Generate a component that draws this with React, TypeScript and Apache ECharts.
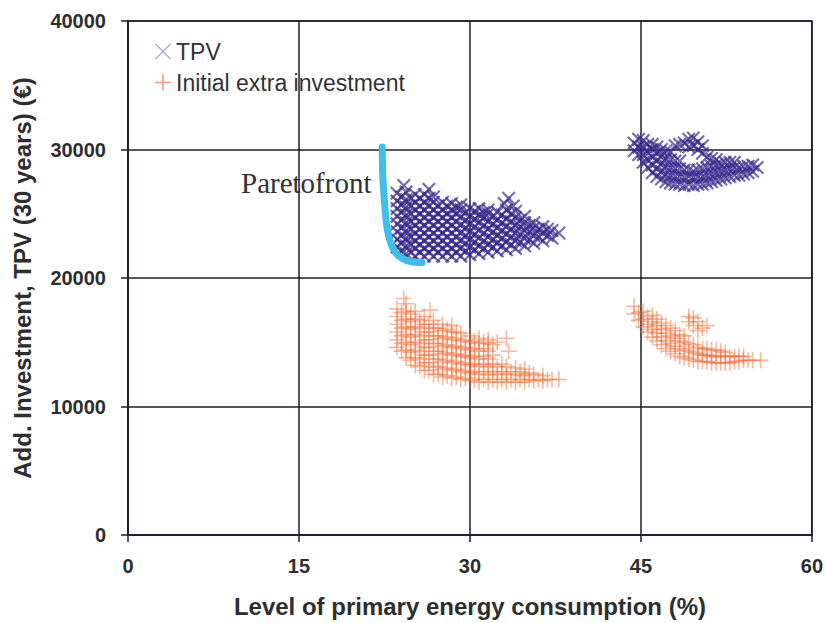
import React, { useEffect, useRef } from "react";
import * as echarts from "echarts";

const xTicks = [0, 15, 30, 45, 60];
const yTicks = [0, 10000, 20000, 30000, 40000];

// TPV, cluster around 22-38 %
const tpvLow: number[][] = [
  [23.6, 22400], [23.6, 23000], [23.6, 23600], [23.6, 24200], [23.6, 24800], [23.6, 25400], [23.6, 26000], [23.6, 26600],
  [24.0, 22100], [24.0, 22700], [24.0, 23300], [24.0, 23900], [24.0, 24500], [24.0, 25100], [24.0, 25700], [24.0, 26300],
  [24.4, 21900], [24.4, 22500], [24.4, 23100], [24.4, 23700], [24.4, 24300], [24.4, 24900], [24.4, 25500], [24.4, 26100], [24.4, 26700], [24.2, 27200],
  [24.8, 22000], [24.8, 22600], [24.8, 23200], [24.8, 23800], [24.8, 24400], [24.8, 25000], [24.8, 25600], [24.8, 26200],
  [25.2, 21700], [25.2, 22300], [25.2, 22900], [25.2, 23500], [25.2, 24100], [25.2, 24700], [25.2, 25300], [25.2, 25900], [25.2, 26500],
  [25.6, 22000], [25.6, 22600], [25.6, 23200], [25.6, 23800], [25.6, 24400], [25.6, 25000], [25.6, 25600], [25.6, 26200],
  [26.0, 21700], [26.0, 22300], [26.0, 22900], [26.0, 23500], [26.0, 24100], [26.0, 24700], [26.0, 25300], [26.0, 25900], [26.0, 26500], [26.4, 26900],
  [26.4, 22000], [26.4, 22600], [26.4, 23200], [26.4, 23800], [26.4, 24400], [26.4, 25000], [26.4, 25600], [26.4, 26200],
  [26.8, 21700], [26.8, 22300], [26.8, 22900], [26.8, 23500], [26.8, 24100], [26.8, 24700], [26.8, 25300], [26.8, 25900], [26.8, 26300],
  [27.2, 22000], [27.2, 22600], [27.2, 23200], [27.2, 23800], [27.2, 24400], [27.2, 25000], [27.2, 25600],
  [27.6, 21700], [27.6, 22300], [27.6, 22900], [27.6, 23500], [27.6, 24100], [27.6, 24700], [27.6, 25300], [27.6, 25900],
  [28.0, 22000], [28.0, 22600], [28.0, 23200], [28.0, 23800], [28.0, 24400], [28.0, 25000], [28.0, 25600],
  [28.4, 21700], [28.4, 22300], [28.4, 22900], [28.4, 23500], [28.4, 24100], [28.4, 24700], [28.4, 25300], [28.4, 25800],
  [28.8, 22000], [28.8, 22600], [28.8, 23200], [28.8, 23800], [28.8, 24400], [28.8, 25000], [28.8, 25500],
  [29.2, 21700], [29.2, 22300], [29.2, 22900], [29.2, 23500], [29.2, 24100], [29.2, 24700], [29.2, 25300], [29.2, 25700],
  [29.6, 22100], [29.6, 22700], [29.6, 23300], [29.6, 23900], [29.6, 24500], [29.6, 25100],
  [30.0, 21800], [30.0, 22400], [30.0, 23000], [30.0, 23600], [30.0, 24200], [30.0, 24800], [30.0, 25400],
  [30.4, 22200], [30.4, 22800], [30.4, 23400], [30.4, 24000], [30.4, 24600], [30.4, 25200],
  [30.8, 21900], [30.8, 22500], [30.8, 23100], [30.8, 23700], [30.8, 24300], [30.8, 24900], [30.8, 25400],
  [31.2, 22300], [31.2, 22900], [31.2, 23500], [31.2, 24100], [31.2, 24700], [31.2, 25100],
  [31.6, 22000], [31.6, 22600], [31.6, 23200], [31.6, 23800], [31.6, 24400], [31.6, 25000], [31.6, 25300],
  [32.0, 22400], [32.0, 23000], [32.0, 23600], [32.0, 24200], [32.0, 24800],
  [32.4, 22100], [32.4, 22700], [32.4, 23300], [32.4, 23900], [32.4, 24500], [32.4, 25100],
  [32.8, 22500], [32.8, 23100], [32.8, 23700], [32.8, 24300], [32.8, 24900],
  [33.2, 22200], [33.2, 22800], [33.2, 23400], [33.2, 24000], [33.2, 24600], [33.2, 25300], [33.0, 25800], [33.4, 26200],
  [33.6, 22600], [33.6, 23200], [33.6, 23800], [33.6, 24400], [33.6, 25000],
  [34.0, 22300], [34.0, 22900], [34.0, 23500], [34.0, 24100], [34.0, 24700], [34.0, 25200], [33.8, 25600],
  [34.4, 22800], [34.4, 23400], [34.4, 24000], [34.4, 24500],
  [34.8, 22500], [34.8, 23100], [34.8, 23700], [34.8, 24300], [34.8, 24800],
  [35.2, 23000], [35.2, 23600], [35.2, 24100],
  [35.6, 22700], [35.6, 23300], [35.6, 23900], [35.6, 24300],
  [36.0, 23200], [36.0, 23800],
  [36.4, 22900], [36.4, 23500], [36.4, 24000],
  [36.8, 23300], [36.8, 23800],
  [37.2, 23100], [37.2, 23700],
  [37.8, 23500],
];

// TPV, cluster around 44-55 %
const tpvHigh: number[][] = [
  [44.4, 29900], [44.4, 30500],
  [44.8, 29600], [44.8, 30200], [44.8, 30800],
  [45.2, 29000], [45.2, 29600], [45.2, 30200], [45.2, 30700],
  [45.6, 28600], [45.6, 29200], [45.6, 29800], [45.6, 30400],
  [46.0, 28200], [46.0, 28800], [46.0, 29400], [46.0, 30000], [46.0, 30400],
  [46.4, 27900], [46.4, 28500], [46.4, 29100], [46.4, 29700], [46.4, 30200],
  [46.8, 27700], [46.8, 28300], [46.8, 28900], [46.8, 29500], [46.8, 30000],
  [47.2, 27500], [47.2, 28100], [47.2, 28700], [47.2, 29300], [47.2, 29900],
  [47.6, 27400], [47.6, 28000], [47.6, 28600], [47.6, 29200], [47.6, 29800],
  [48.0, 27300], [48.0, 27900], [48.0, 28500], [48.0, 29100], [48.0, 30300],
  [48.4, 27300], [48.4, 27900], [48.4, 28500], [48.4, 29100], [48.4, 30400],
  [48.8, 27200], [48.8, 27800], [48.8, 28400], [48.8, 30500],
  [49.2, 27300], [49.2, 27900], [49.2, 28400], [49.2, 30200], [49.2, 30800],
  [49.6, 27200], [49.6, 27800], [49.6, 28300], [49.6, 30300], [49.6, 30900],
  [50.0, 27300], [50.0, 27900], [50.0, 28400], [50.0, 30000], [50.0, 30600],
  [50.4, 27300], [50.4, 27900], [50.4, 28500], [50.4, 29700], [50.4, 30300],
  [50.8, 27400], [50.8, 28000], [50.8, 28600], [50.8, 29400],
  [51.2, 27500], [51.2, 28100], [51.2, 28700], [51.2, 29300],
  [51.6, 27600], [51.6, 28200], [51.6, 28800], [51.6, 29200],
  [52.0, 27700], [52.0, 28300], [52.0, 28900],
  [52.4, 27800], [52.4, 28400], [52.4, 29000],
  [52.8, 27900], [52.8, 28500], [52.8, 29000],
  [53.2, 28000], [53.2, 28600], [53.2, 29000],
  [53.6, 28000], [53.6, 28600],
  [54.0, 28100], [54.0, 28700],
  [54.4, 28200], [54.4, 28700],
  [54.8, 28300], [54.8, 28800],
  [55.2, 28600],
];

// Initial extra investment, cluster around 23-38 %
const invLow: number[][] = [
  [23.6, 14600], [23.6, 15200], [23.6, 15800], [23.6, 16400], [23.6, 17000], [23.6, 17600],
  [24.0, 14300], [24.0, 14900], [24.0, 15500], [24.0, 16100], [24.0, 16700], [24.0, 17300],
  [24.4, 13800], [24.4, 14400], [24.4, 15000], [24.4, 15600], [24.4, 16200], [24.4, 16800], [24.4, 17400], [24.4, 18000], [24.2, 18400],
  [24.8, 13600], [24.8, 14200], [24.8, 14800], [24.8, 15400], [24.8, 16000], [24.8, 16600], [24.8, 17200],
  [25.2, 13200], [25.2, 13800], [25.2, 14400], [25.2, 15000], [25.2, 15600], [25.2, 16200], [25.2, 16800], [25.2, 17400],
  [25.6, 13100], [25.6, 13700], [25.6, 14300], [25.6, 14900], [25.6, 15500], [25.6, 16100], [25.6, 16700],
  [26.0, 12800], [26.0, 13400], [26.0, 14000], [26.0, 14600], [26.0, 15200], [26.0, 15800], [26.0, 16400], [26.0, 17000], [26.5, 17500],
  [26.4, 12800], [26.4, 13400], [26.4, 14000], [26.4, 14600], [26.4, 15200], [26.4, 15800], [26.4, 16400],
  [26.8, 12500], [26.8, 13100], [26.8, 13700], [26.8, 14300], [26.8, 14900], [26.8, 15500], [26.8, 16100], [26.8, 16700],
  [27.2, 12500], [27.2, 13100], [27.2, 13700], [27.2, 14300], [27.2, 14900], [27.2, 15500], [27.2, 16100],
  [27.6, 12300], [27.6, 12900], [27.6, 13500], [27.6, 14100], [27.6, 14700], [27.6, 15300], [27.6, 15900], [27.6, 16400],
  [28.0, 12400], [28.0, 13000], [28.0, 13600], [28.0, 14200], [28.0, 14800], [28.0, 15400], [28.0, 16000],
  [28.4, 12200], [28.4, 12800], [28.4, 13400], [28.4, 14000], [28.4, 14600], [28.4, 15200], [28.4, 15800], [28.4, 16300],
  [28.8, 12300], [28.8, 12900], [28.8, 13500], [28.8, 14100], [28.8, 14700], [28.8, 15300], [28.8, 15800],
  [29.2, 12100], [29.2, 12700], [29.2, 13300], [29.2, 13900], [29.2, 14500], [29.2, 15100], [29.2, 15700],
  [29.6, 12200], [29.6, 12800], [29.6, 13400], [29.6, 14000], [29.6, 14600], [29.6, 15200],
  [30.0, 12000], [30.0, 12600], [30.0, 13200], [30.0, 13800], [30.0, 14400], [30.0, 15000], [30.0, 15500],
  [30.4, 12100], [30.4, 12700], [30.4, 13300], [30.4, 13900], [30.4, 14500], [30.4, 15100],
  [30.8, 11900], [30.8, 12500], [30.8, 13100], [30.8, 13700], [30.8, 14300], [30.8, 14900], [30.8, 15300],
  [31.2, 12100], [31.2, 12700], [31.2, 13300], [31.2, 13900], [31.2, 14500], [31.2, 15000],
  [31.6, 11900], [31.6, 12500], [31.6, 13100], [31.6, 13700], [31.6, 14300], [31.6, 14900], [31.6, 15200],
  [32.0, 12100], [32.0, 12700], [32.0, 13300], [32.0, 14000], [32.0, 14800],
  [32.4, 11900], [32.4, 12500], [32.4, 13100], [32.4, 15000],
  [32.8, 12100], [32.8, 12700], [32.8, 13300],
  [33.2, 11900], [33.2, 12500], [33.2, 13100], [33.4, 14300], [33.2, 15300],
  [33.6, 12100], [33.6, 12700],
  [34.0, 11900], [34.0, 12500], [34.0, 13000],
  [34.4, 12100], [34.4, 12700],
  [34.8, 11900], [34.8, 12400], [34.8, 12900],
  [35.2, 12100], [35.2, 12600],
  [35.6, 12000], [35.6, 12500],
  [36.0, 12100],
  [36.4, 12000], [36.4, 12400],
  [36.8, 12100],
  [37.2, 12100],
  [37.8, 12100],
];

// Initial extra investment, cluster around 44-56 %
const invHigh: number[][] = [
  [44.4, 17200], [44.4, 17800],
  [44.8, 16700], [44.8, 17300],
  [45.2, 16200], [45.2, 16800], [45.2, 17400],
  [45.6, 15800], [45.6, 16400], [45.6, 17000],
  [46.0, 15400], [46.0, 16000], [46.0, 16600], [46.0, 17100],
  [46.4, 15100], [46.4, 15700], [46.4, 16300], [46.4, 16800],
  [46.8, 14800], [46.8, 15400], [46.8, 16000], [46.8, 16500],
  [47.2, 14500], [47.2, 15100], [47.2, 15700], [47.2, 16300],
  [47.6, 14300], [47.6, 14900], [47.6, 15500], [47.6, 16100],
  [48.0, 14100], [48.0, 14700], [48.0, 15300], [48.0, 15900],
  [48.4, 13900], [48.4, 14500], [48.4, 15100], [48.4, 15600],
  [48.8, 13800], [48.8, 14400], [48.8, 15000], [48.8, 15500],
  [49.2, 13700], [49.2, 14300], [49.2, 14900], [49.2, 16600], [49.2, 17000],
  [49.6, 13600], [49.6, 14200], [49.6, 14800], [49.6, 16300], [49.6, 16900],
  [50.0, 13500], [50.0, 14100], [50.0, 14600], [50.0, 15900], [50.0, 16600],
  [50.4, 13500], [50.4, 14000], [50.4, 14500], [50.4, 16100],
  [50.8, 13500], [50.8, 14000], [50.8, 14500], [50.8, 16300],
  [51.2, 13400], [51.2, 13900], [51.2, 14400],
  [51.6, 13400], [51.6, 13900], [51.6, 14400],
  [52.0, 13400], [52.0, 13900], [52.0, 14300],
  [52.4, 13400], [52.4, 13900], [52.4, 14200],
  [52.8, 13400], [52.8, 13900],
  [53.2, 13500], [53.2, 13900],
  [53.6, 13500], [53.6, 13900],
  [54.0, 13600], [54.0, 13900],
  [54.4, 13600],
  [54.8, 13600],
  [55.5, 13600],
];

const paretoFront: number[][] = [
  [22.3, 30200], [22.35, 28000], [22.5, 26000], [22.75, 23800], [23.3, 22200], [24.1, 21500], [25.0, 21250], [25.8, 21200],
];

const PLUS = "path://M9,0H11V9H20V11H11V20H9V11H0V9H9Z";
const CROSS_THICK = "path://M2.2,0L10,7.8L17.8,0L20,2.2L12.2,10L20,17.8L17.8,20L10,12.2L2.2,20L0,17.8L7.8,10L0,2.2Z";
const CROSS_THIN = "path://M0.8,0L10,9.2L19.2,0L20,0.8L10.8,10L20,19.2L19.2,20L10,10.8L0.8,20L0,19.2L9.2,10L0,0.8Z";
const TPV_COLOR = "rgba(55,40,140,0.85)";
const INV_COLOR = "rgba(242,106,50,0.6)";
const AXIS_DARK = "#1c1c30";
const LABEL_FONT = "'Liberation Sans', Arial, sans-serif";

export default function App() {
  const ref = useRef<HTMLDivElement>(null);
  useEffect(() => {
    if (!ref.current) return;
    const chart = echarts.init(ref.current, null, { renderer: "svg" });
    const axisLabel = {
      fontFamily: LABEL_FONT,
      fontWeight: "bold" as const,
      fontSize: 20,
      color: "#2e2e2e",
    };
    chart.setOption({
      animation: false,
      backgroundColor: "#ffffff",
      grid: {
        left: 128,
        right: 14,
        top: 21,
        bottom: 87,
        show: true,
        borderColor: AXIS_DARK,
        borderWidth: 1.5,
      },
      legend: {
        orient: "vertical",
        left: 150,
        top: 35,
        itemWidth: 16,
        itemHeight: 16,
        itemGap: 8,
        textStyle: { fontFamily: LABEL_FONT, fontSize: 23, color: "#333" },
        data: [
          { name: "TPV", icon: CROSS_THIN, itemStyle: { color: "#7a72c8" } },
          { name: "Initial extra investment", icon: PLUS, itemStyle: { color: "#f4845a" } },
        ],
      },
      xAxis: {
        type: "value",
        min: 0,
        max: 60,
        interval: 15,
        name: "Level of primary energy consumption (%)",
        nameLocation: "middle",
        nameGap: 59,
        nameTextStyle: { fontFamily: LABEL_FONT, fontWeight: "bold", fontSize: 24, color: "#2e2e2e" },
        axisLine: { show: true, lineStyle: { color: AXIS_DARK, width: 1.5 } },
        axisTick: { show: true, length: 7, lineStyle: { color: AXIS_DARK, width: 1.5 } },
        splitLine: { show: true, lineStyle: { color: AXIS_DARK, width: 1.5 } },
        axisLabel: {
          ...axisLabel,
          margin: 21,
          formatter: (v: number) => (xTicks.includes(v) ? String(v) : ""),
        },
      },
      yAxis: {
        type: "value",
        min: 0,
        max: 40000,
        interval: 10000,
        name: "Add. Investment, TPV (30 years) (€)",
        nameLocation: "middle",
        nameGap: 94,
        nameTextStyle: { fontFamily: LABEL_FONT, fontWeight: "bold", fontSize: 24, color: "#2e2e2e" },
        axisLine: { show: true, lineStyle: { color: AXIS_DARK, width: 1.5 } },
        axisTick: { show: true, length: 7, lineStyle: { color: AXIS_DARK, width: 1.5 } },
        splitLine: { show: true, lineStyle: { color: AXIS_DARK, width: 1.5 } },
        axisLabel: {
          ...axisLabel,
          margin: 22,
          formatter: (v: number) => (yTicks.includes(v) ? String(v) : ""),
        },
      },
      graphic: [
        {
          type: "text",
          left: 241,
          top: 168,
          style: {
            text: "Paretofront",
            fontFamily: "'Liberation Serif', 'Times New Roman', serif",
            fontSize: 29,
            fill: "#333",
          },
        },
      ],
      series: [
        {
          name: "TPV",
          type: "scatter",
          symbol: CROSS_THICK,
          symbolSize: 14,
          itemStyle: { color: TPV_COLOR },
          data: tpvLow,
          z: 3,
        },
        {
          name: "TPV",
          type: "scatter",
          symbol: CROSS_THICK,
          symbolSize: 14,
          itemStyle: { color: TPV_COLOR },
          data: tpvHigh,
          z: 3,
        },
        {
          name: "Initial extra investment",
          type: "scatter",
          symbol: PLUS,
          symbolSize: 16,
          itemStyle: { color: INV_COLOR },
          data: invLow,
          z: 3,
        },
        {
          name: "Initial extra investment",
          type: "scatter",
          symbol: PLUS,
          symbolSize: 16,
          itemStyle: { color: INV_COLOR },
          data: invHigh,
          z: 3,
        },
        {
          name: "Paretofront",
          type: "line",
          data: paretoFront,
          smooth: 0.4,
          showSymbol: false,
          symbol: "none",
          lineStyle: { color: "#3cc0ea", width: 7, cap: "round" },
          z: 4,
        },
      ],
    });
    return () => chart.dispose();
  }, []);
  return (
    <div
      ref={ref}
      style={{ position: "fixed", left: 0, top: 0, width: 826, height: 623 }}
    />
  );
}
